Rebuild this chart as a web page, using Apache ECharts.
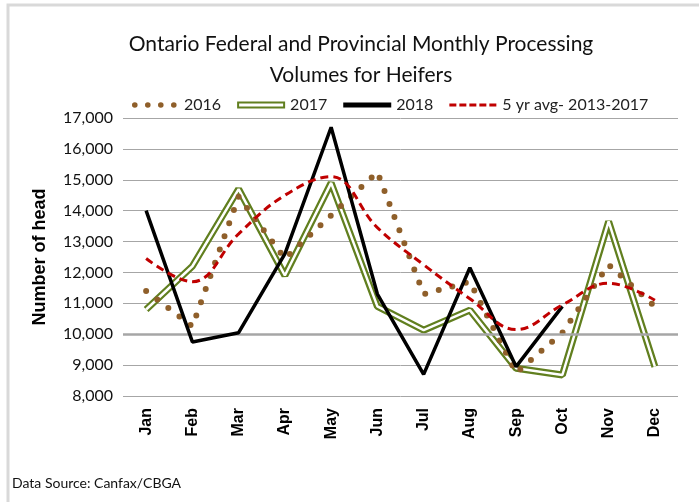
<!DOCTYPE html>
<html>
<head>
<meta charset="utf-8">
<script src="https://cdn.jsdelivr.net/npm/echarts@6/dist/echarts.min.js"></script>
<style>
  html, body { margin: 0; padding: 0; background: #fff; }
  #chart { width: 699px; height: 502px; }
</style>
</head>
<body>
<div id="chart"></div>
<script>
// months along the x axis
const months = ['Jan', 'Feb', 'Mar', 'Apr', 'May', 'Jun', 'Jul', 'Aug', 'Sep', 'Oct', 'Nov', 'Dec'];
// head counts
const heifers2016 = [11400, 10250, 14450, 12450, 13850, 15250, 11300, 11700, 8750, 10050, 12250, 10900];
const heifers2017 = [10800, 12200, 14700, 11900, 14900, 10900, 10130, 10780, 8900, 8680, 13650, 8950];
const heifers2018 = [14000, 9750, 10050, 12600, 16700, 11300, 8700, 12150, 8950, 10900, null, null];
const avg5yr = [12450, 11700, 13250, 14500, 15100, 13450, 12250, 11150, 10150, 10950, 11650, 11100];

const FONT = 'Lato';
const brown = '#8f5f2a';
const green = '#617f1f';

// legend icons (first two moves fix the icon box)
const dotsIcon = 'path://M0,0M48,7' +
  'M1,3.5a2.8,2.8 0 1,0 5.6,0a2.8,2.8 0 1,0 -5.6,0Z' +
  'M14,3.5a2.8,2.8 0 1,0 5.6,0a2.8,2.8 0 1,0 -5.6,0Z' +
  'M27,3.5a2.8,2.8 0 1,0 5.6,0a2.8,2.8 0 1,0 -5.6,0Z' +
  'M40,3.5a2.8,2.8 0 1,0 5.6,0a2.8,2.8 0 1,0 -5.6,0Z';
const doubleIcon = 'path://M0,0H48V7H0ZM2,2V5H46V2Z';
const solidIcon = 'path://M0,0M48,7M0,1H48V6H0Z';
const dashIcon = 'path://M0,0M48,7M0,2H7V5H0ZM10,2H17V5H10ZM20,2H27V5H20ZM30,2H37V5H30ZM40,2H47V5H40Z';

const chart = echarts.init(document.getElementById('chart'));
chart.setOption({
  animation: false,
  backgroundColor: '#fff',
  title: {
    text: 'Ontario Federal and Provincial Monthly Processing\nVolumes for Heifers',
    left: 356,
    top: 24,
    textAlign: 'center',
    textStyle: { fontFamily: FONT, fontSize: 21, fontWeight: 'normal', color: '#111', lineHeight: 31 }
  },
  legend: {
    top: 92,
    left: 126,
    itemWidth: 48,
    itemHeight: 7,
    itemGap: 16,
    textStyle: { fontFamily: FONT, fontSize: 16, color: '#222' },
    itemStyle: { borderWidth: 0 },
    data: [
      { name: '2016', icon: dotsIcon, itemStyle: { color: brown } },
      { name: '2017', icon: doubleIcon, itemStyle: { color: green } },
      { name: '2018', icon: solidIcon, itemStyle: { color: '#000' } },
      { name: '5 yr avg- 2013-2017', icon: dashIcon, itemStyle: { color: '#c00000' } }
    ]
  },
  grid: { left: 123, right: 21, top: 118, bottom: 106 },
  xAxis: {
    type: 'category',
    data: months,
    boundaryGap: true,
    axisLine: { show: false },
    axisTick: { show: false },
    axisLabel: {
      rotate: 90,
      margin: 12,
      fontFamily: 'Liberation Sans',
      fontSize: 16,
      fontWeight: 'bold',
      color: '#000'
    }
  },
  yAxis: {
    type: 'value',
    min: 8000,
    max: 17000,
    interval: 1000,
    name: 'Number of head',
    nameLocation: 'middle',
    nameGap: 74,
    nameRotate: 90,
    nameTextStyle: { fontFamily: 'Liberation Sans', fontSize: 18, fontWeight: 'bold', color: '#000' },
    axisLine: { show: false },
    axisTick: { show: false },
    splitLine: { lineStyle: { color: '#a6a6a6', width: 1 } },
    axisLabel: {
      margin: 10,
      fontFamily: FONT,
      fontSize: 16,
      color: '#111',
      formatter: v => v.toLocaleString('en-US')
    }
  },
  series: [
    {
      name: '2017',
      type: 'line',
      data: heifers2017,
      symbol: 'none',
      itemStyle: { color: green },
      lineStyle: { color: green, width: 7 },
      markLine: {
        silent: true,
        symbol: 'none',
        label: { show: false },
        lineStyle: { color: '#a6a6a6', width: 2.5, type: 'solid' },
        data: [{ yAxis: 10000 }]
      },
      z: 2
    },
    {
      name: '2017 inner',
      type: 'line',
      data: heifers2017,
      symbol: 'none',
      itemStyle: { color: '#fff' },
      lineStyle: { color: '#fff', width: 2.5 },
      z: 3
    },
    {
      name: '2016',
      type: 'line',
      data: heifers2016,
      symbol: 'none',
      itemStyle: { color: brown },
      lineStyle: { color: brown, width: 6, type: [0, 14], cap: 'round' },
      z: 4
    },
    {
      name: '2018',
      type: 'line',
      data: heifers2018,
      symbol: 'none',
      itemStyle: { color: '#000' },
      lineStyle: { color: '#000', width: 3.5 },
      z: 5
    },
    {
      name: '5 yr avg- 2013-2017',
      type: 'line',
      data: avg5yr,
      symbol: 'none',
      smooth: 0.4,
      itemStyle: { color: '#c00000' },
      lineStyle: { color: '#c00000', width: 3, type: [8, 5] },
      z: 6
    }
  ],
  graphic: [
    {
      type: 'rect',
      shape: { x: 8, y: 5, width: 720, height: 520 },
      style: { fill: 'none', stroke: '#d9d9d9', lineWidth: 3 },
      silent: true
    },
    {
      type: 'text',
      left: 12,
      top: 476,
      style: { text: 'Data Source: Canfax/CBGA', font: '14px Lato', fill: '#111' }
    }
  ]
});
</script>
</body>
</html>
